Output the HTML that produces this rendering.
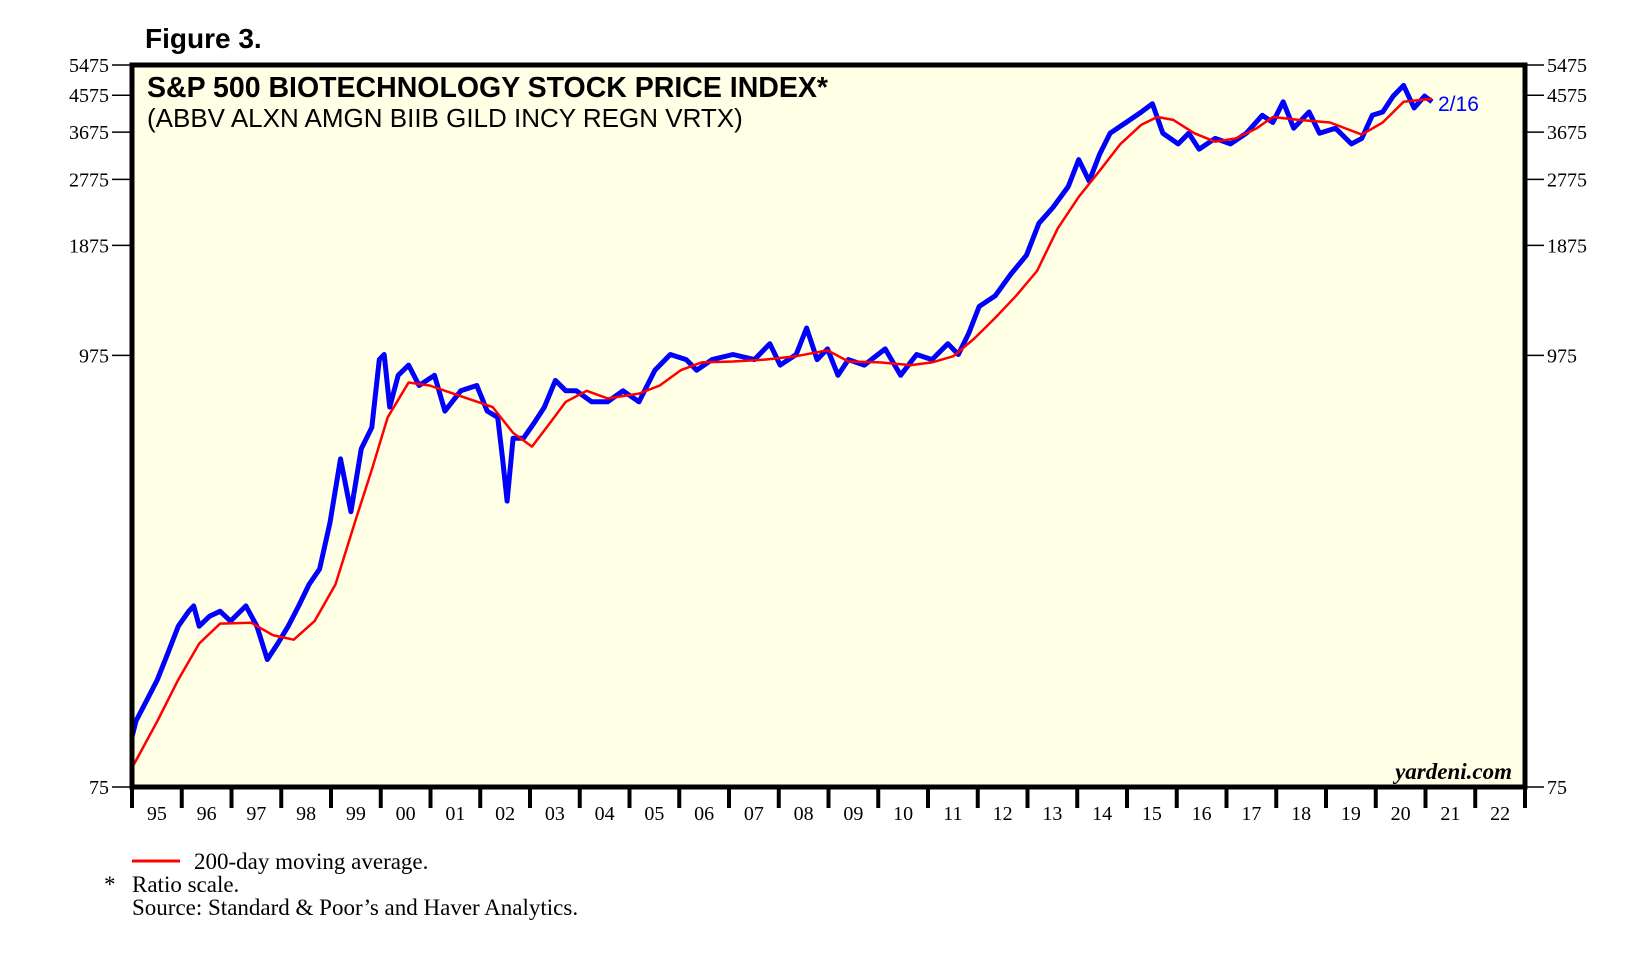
<!DOCTYPE html>
<html><head><meta charset="utf-8"><style>
body{margin:0;background:#fff;width:1642px;height:955px;overflow:hidden}
svg{display:block}
.serif{font-family:"Liberation Serif",serif}
.sans{font-family:"Liberation Sans",sans-serif}
</style></head><body>
<svg id="chart" width="1642" height="955">
<rect x="132" y="65" width="1393" height="722" fill="#ffffe6"/>
<g id="grid"></g>
<g id="series"></g>
<rect x="132" y="65" width="1393" height="722" fill="none" stroke="#000" stroke-width="5"/>
<text x="145" y="48" class="sans" font-size="28" font-weight="bold">Figure 3.</text>
<text x="147" y="97" class="sans" font-size="28.5" font-weight="bold">S&amp;P 500 BIOTECHNOLOGY STOCK PRICE INDEX*</text>
<text x="147" y="127" class="sans" font-size="26">(ABBV ALXN AMGN BIIB GILD INCY REGN VRTX)</text>
<text x="1438" y="111" class="sans" font-size="21" fill="#0000ff">2/16</text>
<text x="1512" y="779" class="serif" font-size="23" font-weight="bold" font-style="italic" text-anchor="end">yardeni.com</text>
<line x1="132" y1="861" x2="180" y2="861" stroke="#ff0000" stroke-width="3"/>
<text x="194" y="869" class="serif" font-size="23">200-day moving average.</text>
<text x="104" y="892" class="serif" font-size="23">*</text>
<text x="132" y="892" class="serif" font-size="23">Ratio scale.</text>
<text x="132" y="915" class="serif" font-size="23">Source: Standard &amp; Poor’s and Haver Analytics.</text>
</svg>
<script>
const yTicks=[5475,4575,3675,2775,1875,975,75];
const yearLabels=["95","96","97","98","99","00","01","02","03","04","05","06","07","08","09","10","11","12","13","14","15","16","17","18","19","20","21","22"];
const priceDates=[1995.00,1995.08,1995.29,1995.51,1995.72,1995.93,1996.14,1996.24,1996.35,1996.56,1996.77,1996.98,1997.29,1997.51,1997.72,1997.93,1998.14,1998.35,1998.56,1998.77,1998.98,1999.19,1999.40,1999.61,1999.82,1999.97,2000.07,2000.18,2000.35,2000.56,2000.77,2001.08,2001.29,2001.61,2001.93,2002.14,2002.35,2002.45,2002.54,2002.66,2002.87,2003.08,2003.29,2003.51,2003.72,2003.93,2004.24,2004.56,2004.87,2005.19,2005.51,2005.82,2006.14,2006.35,2006.66,2007.08,2007.51,2007.82,2008.03,2008.35,2008.56,2008.77,2008.98,2009.19,2009.40,2009.72,2010.14,2010.45,2010.77,2011.08,2011.40,2011.61,2011.82,2012.03,2012.35,2012.66,2012.98,2013.23,2013.51,2013.82,2014.03,2014.24,2014.45,2014.66,2014.98,2015.29,2015.51,2015.72,2016.03,2016.24,2016.45,2016.77,2017.08,2017.40,2017.72,2017.93,2018.14,2018.35,2018.66,2018.87,2019.19,2019.51,2019.72,2019.93,2020.14,2020.35,2020.56,2020.77,2020.98,2021.13];
const priceValues=[101,111,125,142,166,195,213,220,195,207,213,201,220,195,160,176,195,220,250,274,361,527,385,560,635,951,980,717,866,920,815,866,700,790,815,700,675,527,410,596,596,652,717,840,790,790,740,740,790,740,893,980,951,893,951,980,951,1045,920,980,1147,951,1013,866,951,920,1013,866,980,951,1045,980,1112,1304,1389,1577,1768,2137,2347,2660,3120,2745,3220,3650,3890,4140,4350,3650,3425,3650,3320,3540,3425,3650,4060,3890,4400,3760,4140,3650,3760,3425,3540,4060,4140,4550,4850,4240,4550,4400];
const maDates=[1995.00,1995.51,1995.93,1996.35,1996.77,1997.40,1997.83,1998.25,1998.67,1999.09,1999.51,1999.82,2000.14,2000.56,2000.98,2001.61,2002.25,2002.66,2003.04,2003.40,2003.72,2004.14,2004.56,2005.19,2005.61,2006.03,2006.45,2007.08,2007.72,2008.35,2008.98,2009.40,2010.03,2010.66,2011.08,2011.51,2011.93,2012.35,2012.77,2013.19,2013.61,2014.03,2014.45,2014.87,2015.29,2015.61,2015.93,2016.35,2016.77,2017.19,2017.61,2017.93,2018.45,2019.08,2019.72,2020.14,2020.56,2021.13];
const maValues=[84,111,142,176,198,199,185,180,201,250,372,494,675,830,815,765,717,615,567,652,740,790,755,777,815,893,935,940,951,970,1005,940,935,920,935,970,1078,1218,1389,1610,2075,2500,2920,3425,3840,4020,3950,3650,3470,3540,3760,4020,3950,3890,3620,3890,4400,4480];
const NS="http://www.w3.org/2000/svg";
const X0=132,X1=1525,Y0=65,Y1=787;
const x=t=>X0+(t-1995)/(2023-1995)*(X1-X0);
const lmin=Math.log(75),lmax=Math.log(5475);
const y=v=>Y1-(Math.log(v)-lmin)/(lmax-lmin)*(Y1-Y0);
const grid=document.getElementById('grid'),series=document.getElementById('series'),svg=document.getElementById('chart');
function mk(tag,attrs,parent){const e=document.createElementNS(NS,tag);for(const k in attrs)e.setAttribute(k,attrs[k]);parent.appendChild(e);return e;}
yTicks.forEach(v=>{
  const yy=y(v);
  const l1=mk('line',{x1:112,x2:130,y1:yy,y2:yy,stroke:'#000','stroke-width':1.5},svg);
  
  
  const l2=mk('line',{x1:1527,x2:1544,y1:yy,y2:yy,stroke:'#000','stroke-width':1.5},svg);
  
  
  const t1=mk('text',{x:109,y:yy+7,'text-anchor':'end','font-size':20,'class':'serif'},svg);t1.textContent=v;
  
  
  const t2=mk('text',{x:1547,y:yy+7,'font-size':20,'class':'serif'},svg);t2.textContent=v;
  
  
});
yearLabels.forEach((lab,i)=>{
  const xx=x(1995+i);
  const tk=mk('line',{x1:xx,x2:xx,y1:787,y2:808,stroke:'#000','stroke-width':4},svg);
  
  
  const t=mk('text',{x:x(1995.5+i),y:820,'text-anchor':'middle','font-size':20,'class':'serif'},svg);t.textContent=lab;
  
  
});
const last=mk('line',{x1:x(2023),x2:x(2023),y1:787,y2:808,stroke:'#000','stroke-width':4},svg);


function path(d,v){return d.map((t,i)=>(i?'L':'M')+x(t).toFixed(1)+','+y(v[i]).toFixed(1)).join('');}
const pb=mk('path',{d:path(priceDates,priceValues),fill:'none',stroke:'#0000ff','stroke-width':5,'stroke-linejoin':'round'},series);


const pr=mk('path',{d:path(maDates,maValues),fill:'none',stroke:'#ff0000','stroke-width':2.5,'stroke-linejoin':'round'},series);


</script>
</body></html>
